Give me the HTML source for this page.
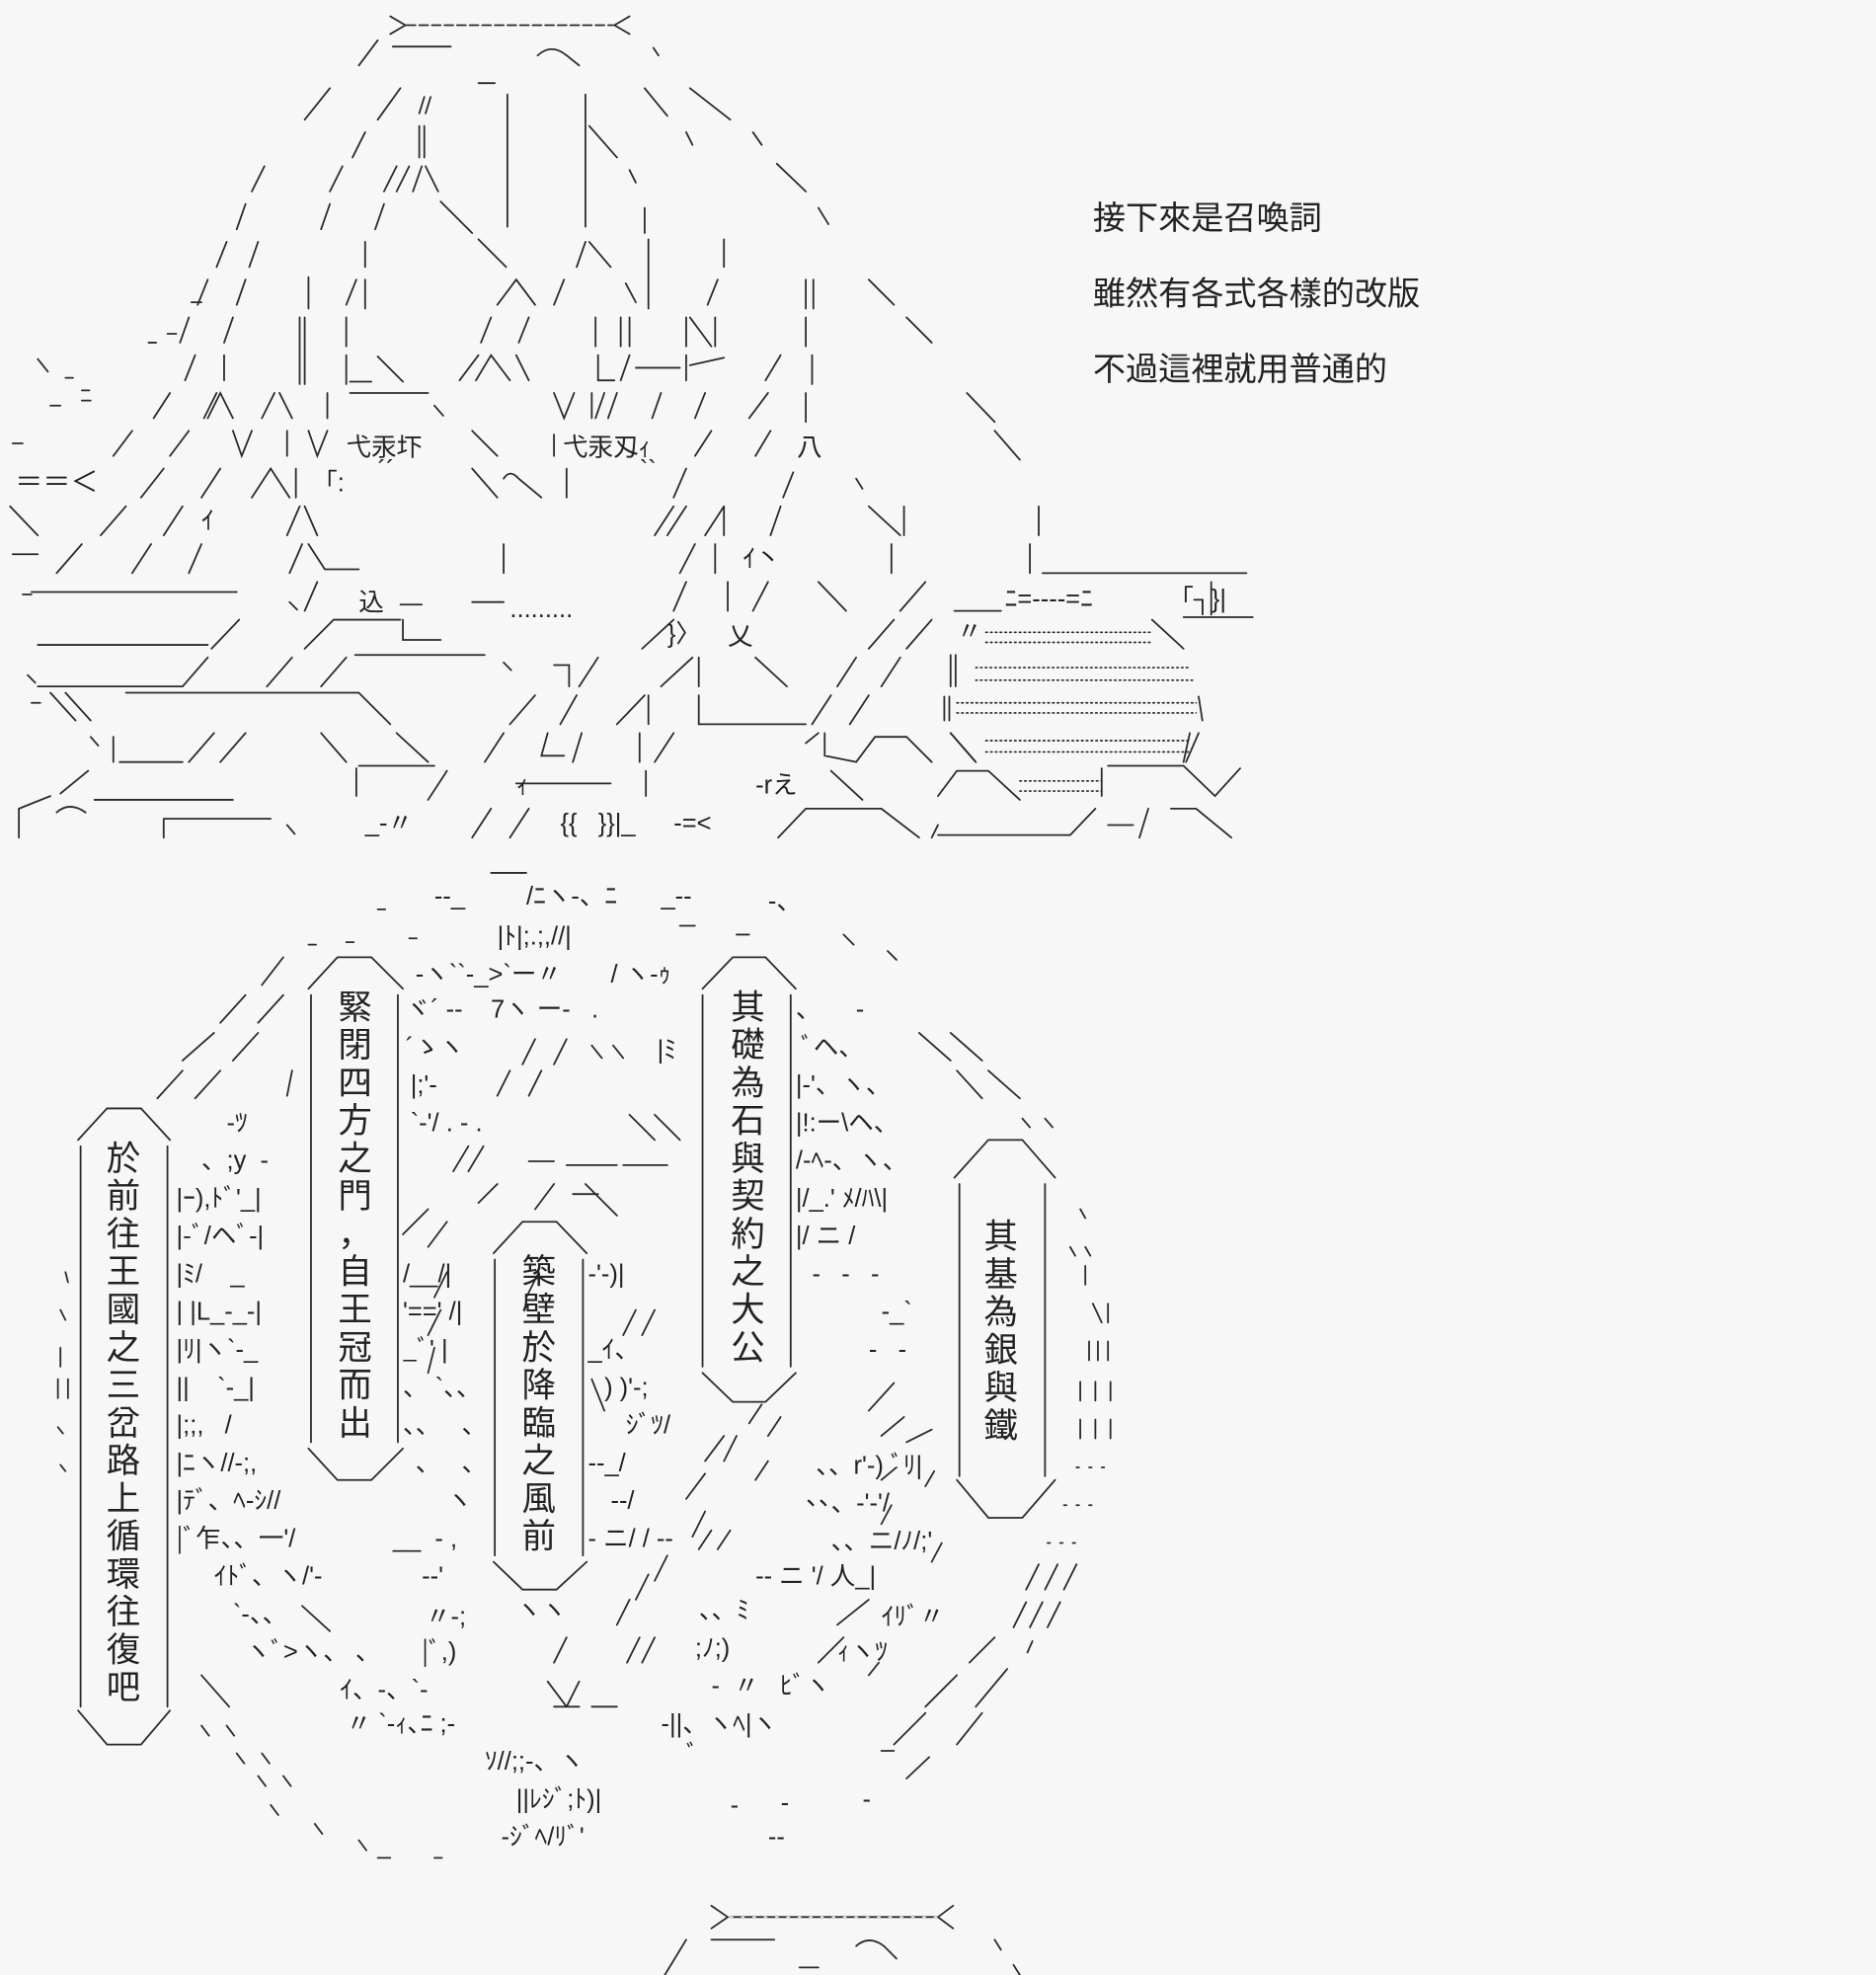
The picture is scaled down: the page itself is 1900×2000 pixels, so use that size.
<!DOCTYPE html>
<html><head><meta charset="utf-8"><style>
html,body{margin:0;padding:0;background:#f7f7f7;}
svg{display:block;}
text{font-family:"Liberation Sans","Noto Sans CJK JP",sans-serif;fill:#222;}
.s{font-size:20px;}
.c{font-size:27px;text-anchor:middle;}
.r{font-size:26px;}
</style></head><body>
<svg width="1900" height="2000" viewBox="0 0 1490 1568" preserveAspectRatio="none" xmlns="http://www.w3.org/2000/svg">
<rect width="1490" height="1568" fill="#f7f7f7"/>
<g stroke="#2a2a2a" stroke-width="1.4" fill="none" stroke-linecap="round">
<path d="M310 13 L322 20 L310 27 M500 13 L488 20 L500 27"/>
<path d="M323 20 H487" stroke-dasharray="7 3"/>
<path d="M300 32 L285 52 M312 37 H358 M427 44 Q438 34 450 44 L460 52 M519 38 L523 44 M380 66 H393"/>
<path d="M262 70 L242 95 M318 70 L300 95 M337 77 L333 90 M342 77 L338 90 M403 75 V180 M465 75 V180 M333 100 V125 M337 100 V125 M468 100 L490 125"/>
<path d="M512 70 L530 92 M548 70 L580 95 M545 105 L550 115 M598 105 L605 115 M500 135 L505 145 M617 130 L640 152 M650 165 L658 178"/>
<path d="M290 105 L280 125 M210 132 L200 152 M272 132 L262 152 M315 132 L305 152 M325 132 L315 152 M335 132 L328 152 M338 132 L348 152"/>
<path d="M195 162 L188 182 M262 162 L255 182 M305 162 L298 182 M350 160 L375 185 M512 165 V185"/>
<path d="M180 192 L172 212 M205 192 L198 212 M290 192 V212 M380 190 L402 212 M465 192 L458 212 M468 192 L485 212 M515 190 V245 M575 190 V212"/>
<path d="M152 240 H160 M165 222 L157 242 M195 222 L188 242 M245 220 V245 M283 222 L275 242 M290 222 V245 M395 242 L410 222 L425 242 M448 222 L440 242 M497 225 L505 240 M570 222 L562 242 M640 222 V245 M646 222 V245 M690 222 L710 242"/>
<path d="M118 272 H124 M133 265 H140 M150 252 L143 272 M185 252 L178 272 M238 252 V305 M242 252 V305 M275 252 V275 M390 252 L382 272 M420 252 L412 272 M473 252 V275 M493 252 V275 M500 252 V275 M545 252 V275 M548 252 L565 275 M568 252 V275 M640 252 V275 M720 252 L740 272"/>
<path d="M30 285 L38 295 M52 300 H58 M65 310 H71 M155 282 L147 302 M178 282 V302 M275 282 V305 M300 283 L320 303 M278 303 H295 M365 302 L380 282 M378 302 L390 282 L405 302 M410 282 L420 302 M475 282 V302 L488 302 M500 282 L493 302 M505 292 H540 M545 282 V302 M548 290 L575 284 M620 282 L608 302 M645 282 V305"/>
<path d="M40 322 H48 M65 318 H72 M135 312 L122 332 M172 312 L162 332 M165 332 L175 312 L185 332 M208 332 L218 312 M222 312 L232 332 M260 312 V332 M278 312 H340 M345 322 L352 330 M440 312 L448 332 L456 312 M470 312 V332 M480 312 L473 332 M490 312 L483 332 M525 312 L518 332 M560 312 L552 332 M610 312 L595 332 M640 312 V335 M768 312 L790 335"/>
<path d="M10 352 H18 M105 342 L90 362 M150 342 L135 362 M185 342 L192 362 L200 342 M228 342 V362 M245 342 L252 362 L260 342 M375 342 L395 362 M440 345 V362 M565 342 L552 362 M612 342 L600 362 M790 342 L810 365"/>
<path d="M130 372 L112 395 M175 372 L160 395 M200 395 L215 372 L230 395 M235 372 V395 M375 372 L395 395 M400 380 Q405 372 412 380 L430 395 M450 372 V395 M545 372 L535 395 M630 375 L622 395 M680 380 L685 388"/>
<path d="M8 402 L30 425 M100 402 L80 425 M145 402 L130 425 M228 425 L238 402 M242 402 L252 425 M520 425 L535 402 M530 425 L545 402 M560 425 L575 402 M575 402 V425 M620 402 L612 425 M690 402 L715 425 M718 402 V425 M825 402 V425"/>
<path d="M10 440 H30 M65 432 L45 455 M120 432 L105 455 M160 432 L150 455 M230 455 L240 432 M245 432 L258 452 L285 452 M400 432 V455 M540 455 L552 432 M568 432 V455 M708 432 V455 M818 432 V455 M828 455 H990"/>
<path d="M18 472 H25 M25 470 H188 M230 478 L236 484 M252 462 L242 485 M318 480 H335 M375 478 H400 M545 462 L535 485 M578 462 V485 M610 462 L598 485 M650 462 L672 485 M735 462 L715 485 M758 485 H795 M940 490 H995 M962 462 V488"/>
<path d="M30 512 H165 M190 492 L168 515 M265 492 L242 515 M265 492 H318 M320 492 V508 H350 M535 492 L510 515 M710 492 L690 515 M740 492 L720 515 M915 492 L940 515"/>
<path d="M22 536 L28 542 M30 545 H145 M165 522 L145 545 M232 522 L212 545 M275 522 L255 545 M282 520 H385 M400 526 L406 532 M440 528 H452 V545 M475 522 L460 545 M550 522 L525 545 M555 522 V545 M600 522 L625 545 M680 522 L665 545 M715 522 L700 545 M755 520 V545 M759 520 V545"/>
<path d="M25 558 H32 M40 550 L60 572 M52 550 L72 572 M100 550 H285 L310 575 M425 552 L405 575 M458 552 L445 575 M490 575 L512 552 M515 552 V575 M555 552 V575 L580 575 H640 M660 552 L645 575 M690 552 L675 575 M750 553 V572 M754 553 V572 M952 553 L955 572"/>
<path d="M72 585 L78 592 M90 585 V605 M95 605 H145 M170 582 L150 605 M195 582 L175 605 M255 582 L275 605 M315 582 L340 605 M400 582 L385 605 M435 582 L430 600 H448 M462 582 L455 605 M508 582 V605 M535 582 L520 605 M640 590 L650 582 M655 582 V600 L680 605 M680 605 L695 585 H720 L740 605 M755 582 L775 605 M952 582 L942 605"/>
<path d="M48 630 L70 612 M75 635 H185 M283 610 V632 M285 608 H345 M355 612 L340 635 M410 622 H485 M513 612 V632 M660 612 L685 635 M745 632 L760 612 H785 L810 635 M875 610 V632 M880 608 H940 L965 632 L985 610"/>
<path d="M15 665 V642 L40 632 M45 645 Q55 636 68 645 M130 650 V665 M130 650 H215 M228 655 L234 662 M390 642 L375 665 M420 642 L405 665 M618 665 L640 642 H700 L730 665 M740 665 L745 655 M745 663 H850 L870 642 M880 655 H900 M912 642 L905 665 M930 642 H950 L978 665"/>
<path d="M783 502 H915 M783 510 H915 M775 530 H945 M775 540 H948 M760 558 H950 M760 566 H950 M783 588 H945 M783 597 H945 M810 620 H875 M810 628 H875" stroke-dasharray="1.2 2.6" stroke-width="1.3"/>
<path d="M755 582 L775 605 M945 582 L940 605"/>

<path d="M390 693 H418 M300 722 H306 M245 750 H251 M275 748 H281 M325 745 H331 M540 735 H552 M585 742 H595 M670 742 L678 750 M705 755 L712 762"/>
<path d="M225 760 L208 782 M195 790 L175 812 M225 790 L205 812 M170 820 L145 842 M205 820 L185 842 M145 850 L125 872 M175 850 L155 872 M232 850 L228 870"/>
<path d="M730 820 L755 842 M755 820 L780 842 M760 850 L780 872 M785 850 L810 872 M812 888 L818 895 M830 888 L836 895"/>
<path d="M62 905 L85 880 H112 L135 905 M64 910 V1355 M133 910 V1355 M62 1358 L85 1385 H112 L135 1358"/>
<path d="M245 785 L268 760 H295 L320 785 M247 790 V1145 M316 790 V1145 M245 1150 L268 1175 H295 L320 1150"/>
<path d="M392 995 L415 970 H442 L466 995 M393 1000 V1235 M463 1000 V1235 M392 1240 L415 1262 H442 L466 1240"/>
<path d="M558 785 L582 760 H608 L632 785 M558 790 V1085 M628 790 V1085 M558 1090 L582 1113 H608 L632 1090"/>
<path d="M758 935 L785 905 H812 L838 935 M762 940 V1172 M830 940 V1172 M760 1175 L785 1205 H812 L838 1175"/>
<path d="M415 845 L425 825 M440 845 L450 825 M395 870 L405 850 M420 870 L430 850 M470 830 L478 840 M487 830 L495 840 M500 885 L520 905 M520 885 L540 905 M360 930 L372 910 M372 930 L384 910 M420 922 H440 M450 925 H490 M495 925 H530 M380 955 L395 940 M425 960 L440 940 M465 940 L490 965 M455 948 H475 M320 980 L340 960 M340 990 L355 970"/>
<path d="M418 1030 L428 1010 M345 1030 L355 1010 M340 1060 L350 1040 M340 1090 L345 1070 M470 1095 L480 1120 M495 1060 L505 1040 M510 1060 L520 1040 M520 1255 L530 1235 M515 1250 L505 1270 M490 1290 L500 1270 M498 1320 L508 1300 M510 1320 L520 1300 M440 1320 L450 1300 M435 1335 L450 1355 M450 1355 L460 1335 M470 1355 H490 M440 1355 H460"/>
<path d="M560 1160 L575 1140 M545 1190 L560 1170 M575 1160 L585 1140 M610 1140 L620 1125 M600 1175 L610 1160 M550 1220 L560 1200 M555 1230 L565 1215 M570 1230 L580 1215 M595 1130 L605 1115 M690 1120 L710 1098 M700 1140 L718 1125 M720 1145 L740 1135"/>
<path d="M665 1290 L690 1270 M650 1320 L670 1300 M690 1330 L698 1320 M700 1175 L712 1165 M735 1180 L742 1168 M740 1240 L748 1225 M700 1210 L708 1195"/>
<path d="M240 1275 L262 1295 M160 1330 L182 1355 M160 1370 L166 1378 M180 1370 L186 1378 M188 1392 L194 1400 M208 1392 L214 1400 M205 1410 L211 1418 M225 1410 L231 1418 M215 1433 L221 1441 M250 1448 L256 1456 M285 1461 L291 1469 M300 1475 H310 M345 1475 H351"/>
<path d="M815 1262 L825 1242 M830 1262 L840 1242 M845 1262 L855 1242 M805 1292 L815 1272 M818 1292 L828 1272 M832 1292 L842 1272 M790 1300 L770 1320 M820 1303 L816 1312 M760 1330 L735 1355 M800 1325 L775 1355 M735 1360 L710 1385 M780 1360 L760 1385 M738 1395 L720 1412 M700 1390 H710"/>
<path d="M48 1040 L52 1048 M48 1070 V1085 M46 1095 V1110 M54 1095 V1110 M46 1133 L50 1138 M48 1163 L52 1168 M52 1010 L54 1018"/>
<path d="M858 960 L862 967 M850 990 L854 997 M862 990 L866 997 M862 1005 V1020 M868 1035 L875 1050 M880 1035 V1050 M865 1065 V1080 M872 1065 V1080 M880 1065 V1080 M858 1097 V1112 M870 1097 V1112 M882 1097 V1112 M858 1127 V1142 M870 1127 V1142 M882 1127 V1142"/>
<path d="M855 1165 H885 M845 1195 H875 M832 1225 H862" stroke-dasharray="2 8"/>
<path d="M565 1513 L578 1522 L565 1531 M757 1513 L745 1522 L757 1531 M580 1522 H744 M545 1540 L528 1568 M565 1540 H615 M680 1545 Q690 1536 702 1545 L712 1555 M790 1540 L795 1548 M805 1560 L810 1568 M635 1562 H650" />
<path d="M580 1522 H744" stroke="#f7f7f7" stroke-width="1" stroke-dasharray="2 7"/>
</g>

<text class="r" x="868" y="182">接下來是召喚詞</text>
<text class="r" x="868" y="242">雖然有各式各樣的改版</text>
<text class="r" x="868" y="302">不過這裡就用普通的</text>

<text class="s" x="275" y="362">弋汞圷</text>
<text class="s" x="447" y="362">弋汞刄ｨ</text>
<text class="s" x="633" y="362">八</text>
<text class="s" x="12" y="390" style="font-size:22px">＝＝＜</text>
<text class="s" x="248" y="390">「:</text>
<text class="s" x="300" y="380">´´</text>
<text class="s" x="508" y="380">``</text>
<text class="s" x="160" y="420">ｲ</text>
<text class="s" x="590" y="450">ｲ丶</text>
<text class="s" x="285" y="485">込</text>
<text class="s" x="405" y="490">.........</text>
<text class="s" x="798" y="482">ﾆ=----=ﾆ</text>
<text class="s" x="928" y="482">「┐}|</text>
<text class="s" x="578" y="512">乂</text>
<text class="s" x="530" y="510">}〉</text>
<text class="s" x="760" y="508">〃</text>
<text class="s" x="600" y="630">‐rえ</text>
<text class="s" x="445" y="660">{{ &#160; }}|_</text>
<text class="s" x="535" y="660">-=&lt;</text>
<text class="s" x="290" y="660">_-〃</text>
<text class="s" x="410" y="630">ｨ</text>

<text class="s" x="345" y="718">-‐_</text>
<text class="s" x="418" y="718">/ﾆヽ-、ﾆ</text>
<text class="s" x="525" y="718">_-‐</text>
<text class="s" x="610" y="722">-、</text>
<text class="s" x="395" y="750">|ﾄ|;.;,//|</text>
<text class="s" x="330" y="780">-ヽ``-_&gt;`ー〃</text>
<text class="s" x="485" y="780">/ ヽ-ｩ</text>
<text class="s" x="322" y="808">ヾ´ -‐ &#160;&#160; 7ヽ ー‐ &#160; .</text>
<text class="s" x="322" y="838">´ゝヽ</text>
<text class="s" x="522" y="840">|ﾐ</text>
<text class="s" x="326" y="868">|;'‐</text>
<text class="s" x="326" y="898">`-'/ . - .</text>
<text class="s" x="632" y="808">、 &#160; &#160; -</text>
<text class="s" x="636" y="838">ﾞヘ、</text>
<text class="s" x="632" y="868">|-'、ヽ、</text>
<text class="s" x="632" y="898">|!:ー\ヘ、</text>
<text class="s" x="632" y="928">/-ﾍ-、ヽ、</text>
<text class="s" x="632" y="958">|/_.' ﾒ/ﾊ\|</text>
<text class="s" x="632" y="988">|/ ニ /</text>
<text class="s" x="645" y="1018">- &#160; - &#160; -</text>
<text class="s" x="700" y="1048">-_`</text>
<text class="s" x="690" y="1078">- &#160; -</text>
<text class="s" x="648" y="1170">、、r'-) ﾞﾘ|</text>
<text class="s" x="660" y="1200">、-'-'/</text>
<text class="s" x="660" y="1230">、、ニ/ﾉ/;'</text>
<text class="s" x="600" y="1258">-- ニ '/ 人_|</text>
<text class="s" x="700" y="1290">ｲﾘﾞ〃</text>
<text class="s" x="665" y="1318">ｨヽﾂ</text>
<text class="s" x="565" y="1345">- &#160;〃 &#160; ﾋﾞヽ</text>
<text class="s" x="180" y="898">-ﾂ</text>
<text class="s" x="160" y="928">、;y &#160;-</text>
<text class="s" x="140" y="958">|ｰ),ﾄﾞ'_|</text>
<text class="s" x="140" y="988">|-ﾞ/ヘﾞ-|</text>
<text class="s" x="140" y="1018">|ﾐ/ &#160;&#160; _</text>
<text class="s" x="140" y="1048">| |L_-_-|</text>
<text class="s" x="140" y="1078">|ﾘ|ヽ`-_</text>
<text class="s" x="140" y="1108">|| &#160;&#160; `-_|</text>
<text class="s" x="140" y="1138">|;;, &#160; /</text>
<text class="s" x="140" y="1168">|ﾆヽ//-;,</text>
<text class="s" x="140" y="1198">|ﾃﾞ、ﾍ-ｼ//</text>
<text class="s" x="140" y="1228">|ﾞ乍、、一'/</text>
<text class="s" x="170" y="1258">ｲﾄﾞ、ヽ/'-</text>
<text class="s" x="185" y="1288">`-、、</text>
<text class="s" x="195" y="1318">ヽﾞ&gt;ヽ、 、</text>
<text class="s" x="270" y="1348">ｲ、-、`-</text>
<text class="s" x="275" y="1375">〃 `-ｨ､ﾆ ;-</text>
<text class="s" x="385" y="1405">ｿ//;;-、ヽ</text>
<text class="s" x="545" y="1400">ﾞ</text>
<text class="s" x="410" y="1435">||ﾚｼﾞ;ﾄ)|</text>
<text class="s" x="398" y="1465">-ｼﾞﾍ/ﾘﾞ'</text>
<text class="s" x="580" y="1440">-</text>
<text class="s" x="620" y="1438">-</text>
<text class="s" x="685" y="1435">-</text>
<text class="s" x="610" y="1465">-‐</text>
<text class="s" x="320" y="1018">/__/|</text>
<text class="s" x="320" y="1048">'==' /|</text>
<text class="s" x="320" y="1078">_ﾞ' |</text>
<text class="s" x="320" y="1108">、 `、、</text>
<text class="s" x="320" y="1138">、、 &#160; 、</text>
<text class="s" x="330" y="1168">、 &#160; 、</text>
<text class="s" x="355" y="1198">ヽ</text>
<text class="s" x="312" y="1228">__ &#160;- ,</text>
<text class="s" x="335" y="1258">--'</text>
<text class="s" x="338" y="1290">〃-;</text>
<text class="s" x="335" y="1318">|ﾞ,)</text>
<text class="s" x="467" y="1018">-'-)|</text>
<text class="s" x="467" y="1078">_ｲ、</text>
<text class="s" x="480" y="1108">) )'-;</text>
<text class="s" x="497" y="1138">ｼﾞﾂ/</text>
<text class="s" x="467" y="1168">--_/</text>
<text class="s" x="485" y="1198">--/</text>
<text class="s" x="467" y="1228">- ニ/ / --</text>
<text class="s" x="410" y="1285">ヽヽ</text>
<text class="s" x="555" y="1285">、、ﾐ</text>
<text class="s" x="552" y="1315">;ﾉ;)</text>
<text class="s" x="525" y="1375">-||、ヽﾍ|ヽ</text>
<text class="s" x="640" y="1195">、、</text>

<g>
<text class="c" x="98" y="929">於</text><text class="c" x="98" y="959">前</text><text class="c" x="98" y="989">往</text><text class="c" x="98" y="1019">王</text><text class="c" x="98" y="1049">國</text><text class="c" x="98" y="1079">之</text><text class="c" x="98" y="1109">三</text><text class="c" x="98" y="1139">岔</text><text class="c" x="98" y="1169">路</text><text class="c" x="98" y="1199">上</text><text class="c" x="98" y="1229">循</text><text class="c" x="98" y="1259">環</text><text class="c" x="98" y="1289">往</text><text class="c" x="98" y="1319">復</text><text class="c" x="98" y="1349">吧</text>
<text class="c" x="282" y="809">緊</text><text class="c" x="282" y="839">閉</text><text class="c" x="282" y="869">四</text><text class="c" x="282" y="899">方</text><text class="c" x="282" y="929">之</text><text class="c" x="282" y="959">門</text><text class="c" x="282" y="989">，</text><text class="c" x="282" y="1019">自</text><text class="c" x="282" y="1049">王</text><text class="c" x="282" y="1079">冠</text><text class="c" x="282" y="1109">而</text><text class="c" x="282" y="1139">出</text>
<text class="c" x="428" y="1019">築</text><text class="c" x="428" y="1049">壁</text><text class="c" x="428" y="1079">於</text><text class="c" x="428" y="1109">降</text><text class="c" x="428" y="1139">臨</text><text class="c" x="428" y="1169">之</text><text class="c" x="428" y="1199">風</text><text class="c" x="428" y="1229">前</text>
<text class="c" x="594" y="809">其</text><text class="c" x="594" y="839">礎</text><text class="c" x="594" y="869">為</text><text class="c" x="594" y="899">石</text><text class="c" x="594" y="929">與</text><text class="c" x="594" y="959">契</text><text class="c" x="594" y="989">約</text><text class="c" x="594" y="1019">之</text><text class="c" x="594" y="1049">大</text><text class="c" x="594" y="1079">公</text>
<text class="c" x="795" y="991">其</text><text class="c" x="795" y="1021">基</text><text class="c" x="795" y="1051">為</text><text class="c" x="795" y="1081">銀</text><text class="c" x="795" y="1111">與</text><text class="c" x="795" y="1141">鐵</text>
</g>
</svg>
</body></html>
